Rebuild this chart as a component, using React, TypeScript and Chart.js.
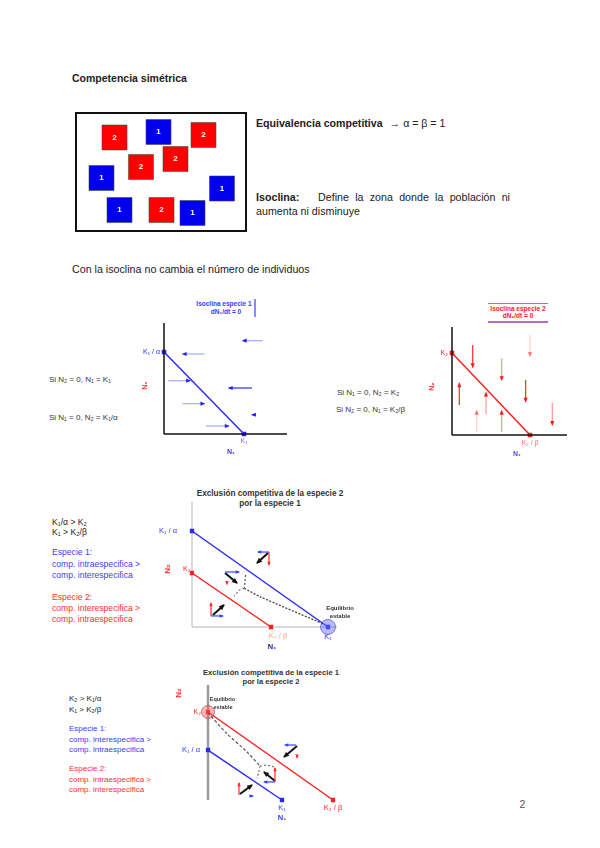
import React, { useEffect, useRef } from "react";
import { Chart, registerables } from "chart.js";

Chart.register(...registerables);

// ---------------- data ----------------
// individuals in the box (species id and position inside the box)
const boxSpecies = [2, 1, 2, 2, 2, 1, 1, 1, 2, 1];
const boxX = [39.5, 83.5, 128.5, 100.5, 66, 26.5, 147, 44.5, 86.5, 117.5];
const boxY = [25.5, 20, 23, 47, 55, 66, 76.5, 98, 98, 101];

// isocline of species 1 (units: K1 = 1, K1/alpha = 1)
const iso1N1 = [0, 1];
const iso1N2 = [1, 0];
const d1ArrowFromN1 = [1.234, 0.504, 0.054, 1.1, 0.229, 1.15, 0.525];
const d1ArrowToN1 = [0.984, 0.234, 0.325, 0.81, 0.504, 1.1, 0.809];
const d1ArrowN2 = [1.138, 0.976, 0.65, 0.561, 0.37, 0.235, 0.098];
const d1ArrowTone = ["light", "light", "light", "dark", "light", "dark", "light"];

// isocline of species 2 (units: K2 = 1, K2/beta = 1)
const iso2N1 = [0, 1];
const iso2N2 = [1, 0];
const d2ArrowN1 = [0.265, 1.0, 0.637, 0.094, 0.436, 0.944, 0.316, 0.637, 1.286];
const d2ArrowFromN2 = [1.098, 1.22, 0.935, 0.366, 0.256, 0.67, 0.04, 0.04, 0.394];
const d2ArrowToN2 = [0.826, 0.963, 0.67, 0.63, 0.516, 0.406, 0.296, 0.296, 0.122];
const d2ArrowTone = ["dark", "faint", "light", "dark", "light", "dark", "faint", "light", "light"];

// exclusion of species 2 by species 1
const ex1Iso1N1 = [0, 1];
const ex1Iso1N2 = [1, 0];
const ex1Iso2N1 = [0, 0.581];
const ex1Iso2N2 = [0.5625, 0];
const ex1VecKind = ["N1", "N2", "net", "N1", "N2", "net", "N1", "N2", "net"];
const ex1VecX0 = [0.566, 0.566, 0.559, 0.243, 0.257, 0.243, 0.14, 0.14, 0.154];
const ex1VecY0 = [0.781, 0.781, 0.771, 0.573, 0.47, 0.5625, 0.115, 0.115, 0.125];
const ex1VecX1 = [0.485, 0.566, 0.478, 0.346, 0.257, 0.331, 0.228, 0.14, 0.235];
const ex1VecY1 = [0.781, 0.646, 0.667, 0.573, 0.445, 0.458, 0.115, 0.25, 0.229];
const ex1TrajUpN1 = [0.395, 0.389, 0.385];
const ex1TrajUpN2 = [0.542, 0.47, 0.403];
const ex1TrajLeftN1 = [0.385, 0.35, 0.31];
const ex1TrajLeftN2 = [0.403, 0.385, 0.32];
const ex1TrajRightN1 = [0.385, 0.5, 0.966];
const ex1TrajRightN2 = [0.403, 0.316, 0.031];

// exclusion of species 1 by species 2
const ex2Iso2N1 = [0, 1];
const ex2Iso2N2 = [1, 0];
const ex2Iso1N1 = [0, 0.592];
const ex2Iso1N2 = [0.568, 0];
const ex2VecKind = ["N1", "N2", "net", "N1", "N2", "net", "N1", "N2", "net"];
const ex2VecX0 = [0.704, 0.712, 0.712, 0.536, 0.536, 0.536, 0.33, 0.248, 0.256];
const ex2VecY0 = [0.625, 0.5, 0.614, 0.205, 0.205, 0.216, 0.045, 0.057, 0.068];
const ex2VecX1 = [0.616, 0.712, 0.608, 0.448, 0.536, 0.448, 0.36, 0.248, 0.352];
const ex2VecY1 = [0.625, 0.48, 0.489, 0.205, 0.364, 0.318, 0.045, 0.193, 0.17];
const ex2TrajMainN1 = [0.0, 0.149, 0.31, 0.416];
const ex2TrajMainN2 = [0.99, 0.758, 0.549, 0.386];
const ex2TrajDownN1 = [0.416, 0.405, 0.39];
const ex2TrajDownN2 = [0.386, 0.31, 0.247];
const ex2TrajRightN1 = [0.416, 0.47, 0.53];
const ex2TrajRightN2 = [0.386, 0.395, 0.375];

// ---------------- helpers ----------------
const FONT = '"Liberation Sans", Arial, Helvetica, sans-serif';
const cf = (size: number, bold = false) => `${bold ? "bold " : ""}${size}px "Liberation Sans", Arial, sans-serif`;
const BLUE = "#2b2bff";
const RED = "#ff2020";

type Lbl = { x: number; y: number; t: string; c: string; f: string; al?: CanvasTextAlign; dx?: number; dy?: number; rot?: boolean };

const seg = (x0: number, y0: number, x1: number, y1: number, color: string, width: number, extra: any = {}) => ({
  data: [{ x: x0, y: y0 }, { x: x1, y: y1 }],
  showLine: true,
  borderColor: color,
  backgroundColor: color,
  borderWidth: width,
  pointRadius: 0,
  pointHoverRadius: 0,
  clip: false,
  ...extra,
});

const path = (xs: number[], ys: number[], color: string, width: number, extra: any = {}) => ({
  data: xs.map((x, i) => ({ x, y: ys[i] })),
  showLine: true,
  borderColor: color,
  backgroundColor: color,
  borderWidth: width,
  pointRadius: 0,
  pointHoverRadius: 0,
  clip: false,
  ...extra,
});

const overlay = (labels: Lbl[]) => ({
  id: "overlay",
  afterDatasetsDraw(chart: any) {
    const ctx = chart.ctx;
    chart.data.datasets.forEach((ds: any, i: number) => {
      if (!ds.head) return;
      const pts = chart.getDatasetMeta(i).data;
      const a = pts[pts.length - 2];
      const b = pts[pts.length - 1];
      const ang = Math.atan2(b.y - a.y, b.x - a.x);
      const s = ds.headSize || 3;
      ctx.save();
      ctx.fillStyle = ds.head;
      ctx.translate(b.x, b.y);
      ctx.rotate(ang);
      ctx.beginPath();
      ctx.moveTo(1, 0);
      ctx.lineTo(-s * 1.5, -s * 0.8);
      ctx.lineTo(-s * 1.5, s * 0.8);
      ctx.closePath();
      ctx.fill();
      ctx.restore();
    });
    const xs = chart.scales.x;
    const ys = chart.scales.y;
    labels.forEach((l) => {
      const px = xs.getPixelForValue(l.x) + (l.dx || 0);
      const py = ys.getPixelForValue(l.y) + (l.dy || 0);
      ctx.save();
      ctx.translate(px, py);
      if (l.rot) ctx.rotate(-Math.PI / 2);
      ctx.font = l.f;
      ctx.fillStyle = l.c;
      ctx.textAlign = l.al || "center";
      ctx.textBaseline = "middle";
      ctx.fillText(l.t, 0, 0);
      ctx.restore();
    });
  },
});

type PlaneProps = {
  bx: number; by: number; bw: number; bh: number; pad: number[];
  xMax: number; yMax: number; rev?: boolean; datasets: any[]; labels: Lbl[];
};

function Plane({ bx, by, bw, bh, pad, xMax, yMax, rev, datasets, labels }: PlaneProps) {
  const ref = useRef<HTMLCanvasElement | null>(null);
  const W = bw + pad[0] + pad[2];
  const H = bh + pad[1] + pad[3];
  useEffect(() => {
    if (!ref.current) return;
    const chart = new Chart(ref.current, {
      type: "scatter",
      data: { datasets },
      options: {
        responsive: false,
        animation: false,
        devicePixelRatio: 1,
        events: [],
        layout: { autoPadding: false, padding: { left: pad[0], top: pad[1], right: pad[2], bottom: pad[3] } },
        scales: {
          x: { type: "linear", min: 0, max: xMax, display: false },
          y: { type: "linear", min: 0, max: yMax, display: false, reverse: !!rev },
        },
        plugins: { legend: { display: false }, tooltip: { enabled: false } },
      },
      plugins: [overlay(labels)],
    } as any);
    return () => chart.destroy();
  }, []);
  return (
    <canvas
      ref={ref}
      width={W}
      height={H}
      style={{ position: "absolute", left: bx - pad[0], top: by - pad[1], width: W, height: H }}
    />
  );
}

const T = ({ x, y, s, c = "#222", b = false, a = "left", children }: any) => (
  <div
    style={{
      position: "absolute",
      left: x,
      top: y,
      fontSize: s,
      color: c,
      fontWeight: b ? 700 : 400,
      lineHeight: 1,
      whiteSpace: "nowrap",
      fontFamily: FONT,
      transform: a === "center" ? "translate(-50%,-50%)" : "translateY(-50%)",
    }}
  >
    {children}
  </div>
);

const vecColor: Record<string, string> = { N1: "#3347ff", N2: "#ff2a2a", net: "#111111" };

function vectors(kind: string[], x0: number[], y0: number[], x1: number[], y1: number[]) {
  return kind.map((k, i) =>
    seg(x0[i], y0[i], x1[i], y1[i], vecColor[k], k === "net" ? 2 : 1.2, {
      head: vecColor[k],
      headSize: k === "net" ? 3.2 : 2.2,
    })
  );
}

// ---------------- app ----------------
export default function App() {
  // box of individuals
  const boxDatasets = [
    {
      data: boxSpecies.map((s, i) => ({ x: boxX[i], y: boxY[i] })),
      pointStyle: "rect",
      pointRadius: 17.7,
      pointHoverRadius: 17.7,
      backgroundColor: boxSpecies.map((s) => (s === 1 ? "#0000ee" : "#ff0000")),
      borderColor: "rgba(70,70,70,0.55)",
      borderWidth: 1,
      clip: false,
    },
  ];
  const boxLabels: Lbl[] = boxSpecies.map((s, i) => ({ x: boxX[i], y: boxY[i], t: String(s), c: "#ffffff", f: cf(8, true) }));

  // diagram 1
  const d1X = 123 / 80;
  const d1Y = 111 / 82;
  const d1Sets = [
    seg(0, 0, d1X, 0, "#111", 1.5),
    seg(0, 0, 0, d1Y, "#111", 1.5),
    path(iso1N1, iso1N2, BLUE, 1.5, { pointRadius: 2.2, pointStyle: "rect" }),
    ...d1ArrowFromN1.map((x0, i) =>
      seg(x0, d1ArrowN2[i], d1ArrowToN1[i], d1ArrowN2[i], d1ArrowTone[i] === "dark" ? "#3a3aff" : "#aab2ff", 1.3, {
        head: "#2020ff",
        headSize: 2.6,
      })
    ),
  ];
  const d1Labels: Lbl[] = [
    { x: 0, y: 1, t: "K\u2081 / \u03b1", c: BLUE, f: cf(7), al: "right", dx: -4 },
    { x: 1, y: 0, t: "K\u2081", c: "#7a6cff", f: cf(7), dy: 7 },
    { x: 0, y: 0.589, t: "N\u2082", c: RED, f: cf(7, true), dx: -19, rot: true },
    { x: 0.8375, y: 0, t: "N\u2081", c: "#3a3aff", f: cf(7, true), dy: 18 },
  ];

  // diagram 2
  const d2X = 115 / 78;
  const d2Y = 108 / 82;
  const d2Line: Record<string, string> = { dark: "#ff3a3a", light: "#ff9e9e", faint: "#ffd4d4" };
  const d2Head: Record<string, string> = { dark: "#ff1a1a", light: "#ff1a1a", faint: "#ff7070" };
  const d2Sets = [
    seg(0, 0, d2X, 0, "#111", 1.5),
    seg(0, 0, 0, d2Y, "#111", 1.5),
    path(iso2N1, iso2N2, RED, 1.5, { pointRadius: 2.2, pointStyle: "rect" }),
    ...d2ArrowN1.map((x, i) =>
      seg(x, d2ArrowFromN2[i], x, d2ArrowToN2[i], d2Line[d2ArrowTone[i]], 1.3, {
        head: d2Head[d2ArrowTone[i]],
        headSize: 2.6,
      })
    ),
  ];
  const d2Labels: Lbl[] = [
    { x: 0, y: 1, t: "K\u2082", c: RED, f: cf(7), al: "right", dx: -4 },
    { x: 1, y: 0, t: "K\u2082 / \u03b2", c: "#ff6a6a", f: cf(7), dy: 8 },
    { x: 0, y: 0.589, t: "N\u2082", c: RED, f: cf(7, true), dx: -20, rot: true },
    { x: 0.833, y: 0, t: "N\u2081", c: "#5a4aff", f: cf(7, true), dy: 19 },
  ];

  // diagram 3
  const d3X = 145 / 136;
  const d3Y = 125 / 96;
  const d3Sets = [
    ...vectors(ex1VecKind, ex1VecX0, ex1VecY0, ex1VecX1, ex1VecY1),
    path(ex1TrajUpN1, ex1TrajUpN2, "#555", 1.2, { borderDash: [2, 2], tension: 0.3 }),
    path(ex1TrajLeftN1, ex1TrajLeftN2, "#777", 1.2, { borderDash: [2, 2], tension: 0.3 }),
    path(ex1TrajRightN1, ex1TrajRightN2, "#444", 1.3, { borderDash: [2, 1.5], tension: 0.2 }),
    {
      data: [{ x: 1, y: 0 }],
      pointRadius: 7.5,
      pointHoverRadius: 7.5,
      backgroundColor: "rgba(95,105,255,0.45)",
      borderColor: "rgba(60,60,170,0.6)",
      borderWidth: 1,
      clip: false,
    },
    path(ex1Iso1N1, ex1Iso1N2, BLUE, 1.5, { pointRadius: 2, pointStyle: "rect" }),
    path(ex1Iso2N1, ex1Iso2N2, RED, 1.5, { pointRadius: 2, pointStyle: "rect" }),
    seg(0, 0, d3X, 0, "#b5b5b5", 1),
    seg(0, 0, 0, d3Y, "#b5b5b5", 1),
  ];
  const d3Labels: Lbl[] = [
    { x: 0, y: 1, t: "K\u2081 / \u03b1", c: "#3a3aff", f: cf(7.5), al: "right", dx: -15 },
    { x: 0, y: 0.5625, t: "K\u2082", c: RED, f: cf(7), al: "right", dx: -1.5, dy: -4 },
    { x: 0, y: 0.604, t: "N\u2082", c: RED, f: cf(8, true), dx: -24, rot: true },
    { x: 0.581, y: 0, t: "K\u2082 / \u03b2", c: "#ffa57a", f: cf(7.5), dx: 7, dy: 9 },
    { x: 1, y: 0, t: "K\u2081", c: "#3a3aff", f: cf(7.5), dy: 10 },
    { x: 0.588, y: 0, t: "N\u2081", c: "#23238a", f: cf(7.5, true), dy: 20 },
    { x: 1, y: 0, t: "Equilibrio", c: "#333", f: cf(6, true), dx: 12, dy: -19 },
    { x: 1, y: 0, t: "estable", c: "#333", f: cf(6, true), dx: 12, dy: -11 },
  ];

  // diagram 4
  const d4X = 137 / 125;
  const d4Y = 115 / 88;
  const d4Sets = [
    ...vectors(ex2VecKind, ex2VecX0, ex2VecY0, ex2VecX1, ex2VecY1),
    path(ex2TrajMainN1, ex2TrajMainN2, "#555", 1.2, { borderDash: [3, 2], tension: 0.3 }),
    path(ex2TrajDownN1, ex2TrajDownN2, "#777", 1.2, { borderDash: [2, 2], tension: 0.3 }),
    path(ex2TrajRightN1, ex2TrajRightN2, "#777", 1.2, { borderDash: [2, 2], tension: 0.3 }),
    {
      data: [{ x: 0, y: 1 }],
      pointRadius: 6.5,
      pointHoverRadius: 6.5,
      backgroundColor: "rgba(255,95,95,0.45)",
      borderColor: "rgba(140,60,60,0.6)",
      borderWidth: 1,
      clip: false,
    },
    path(ex2Iso2N1, ex2Iso2N2, RED, 1.5, { pointRadius: 2, pointStyle: "rect" }),
    path(ex2Iso1N1, ex2Iso1N2, BLUE, 1.5, { pointRadius: 2, pointStyle: "rect" }),
    seg(0, 0, 0, d4Y, "#9c9c9c", 2.5),
  ];
  const d4Labels: Lbl[] = [
    { x: 0, y: 1, t: "K\u2082", c: RED, f: cf(7), al: "right", dx: -7 },
    { x: 0, y: 0.568, t: "K\u2081 / \u03b1", c: "#3a3aff", f: cf(7.5), al: "right", dx: -8 },
    { x: 0, y: 1.216, t: "N\u2082", c: RED, f: cf(8, true), dx: -29, rot: true },
    { x: 0.592, y: 0, t: "K\u2081", c: "#3a3aff", f: cf(7.5), dy: 8 },
    { x: 0.592, y: 0, t: "N\u2081", c: "#3a3aff", f: cf(7.5, true), dy: 18 },
    { x: 1, y: 0, t: "K\u2082 / \u03b2", c: RED, f: cf(7.5), dy: 8 },
    { x: 0, y: 1, t: "Equilibrio", c: "#333", f: cf(5.5, true), dx: 14.5, dy: -13 },
    { x: 0, y: 1, t: "estable", c: "#333", f: cf(5.5, true), dx: 15, dy: -5 },
  ];

  const blueT = "#4040ff";
  const redT = "#ff3030";

  return (
    <div style={{ position: "absolute", left: 0, top: 0, width: 600, height: 848, background: "#fff", fontFamily: FONT, overflow: "hidden" }}>
      <T x={72} y={78} s={10.5} b>Competencia simétrica</T>

      {/* box of individuals */}
      <Plane bx={75} by={112} bw={172} bh={120} pad={[0, 0, 0, 0]} xMax={172} yMax={120} rev datasets={boxDatasets} labels={boxLabels} />
      <div style={{ position: "absolute", left: 75, top: 112, width: 172, height: 120, border: "2px solid #111", boxSizing: "border-box" }} />

      <T x={256} y={123} s={10.6}>
        <b>Equivalencia competitiva</b>
        <span style={{ marginLeft: 7 }}>→ α = β = 1</span>
      </T>
      <div
        style={{
          position: "absolute",
          left: 256,
          top: 190,
          width: 254,
          fontSize: 10.7,
          lineHeight: "14px",
          textAlign: "justify",
          color: "#222",
          fontFamily: FONT,
        }}
      >
        <b>Isoclina:</b>&nbsp;&nbsp; Define la zona donde la población ni aumenta ni disminuye
      </div>

      <T x={72} y={269} s={10.7}>Con la isoclina no cambia el número de individuos</T>

      {/* diagram 1 */}
      <T x={224} y={304} s={6.5} b c="#3a3aff" a="center">Isoclina especie 1</T>
      <T x={226} y={311.5} s={6.5} b c="#3a3aff" a="center">dN₁/dt = 0</T>
      <div style={{ position: "absolute", left: 254, top: 299, width: 1.5, height: 18, background: "#8a8aff" }} />
      <T x={49} y={380} s={8} c="#333">Si N₂ = 0, N₁ = K₁</T>
      <T x={49} y={418} s={8} c="#333">Si N₁ = 0, N₂ = K₁/α</T>
      <Plane bx={164} by={323} bw={123} bh={111} pad={[32, 6, 6, 24]} xMax={d1X} yMax={d1Y} datasets={d1Sets} labels={d1Labels} />

      {/* diagram 2 */}
      <div style={{ position: "absolute", left: 488, top: 302.5, width: 60, height: 1.5, background: "#b56cc9" }} />
      <div style={{ position: "absolute", left: 488, top: 321, width: 60, height: 1.5, background: "#b56cc9" }} />
      <T x={518} y={309} s={6.5} b c={RED} a="center">Isoclina especie 2</T>
      <T x={518} y={315.8} s={6.5} b c={RED} a="center">dN₂/dt = 0</T>
      <T x={337} y={393} s={8} c="#333">Si N₁ = 0, N₂ = K₂</T>
      <T x={336} y={410} s={8} c="#333">Si N₂ = 0, N₁ = K₂/β</T>
      <Plane bx={452} by={327} bw={115} bh={108} pad={[30, 6, 10, 26]} xMax={d2X} yMax={d2Y} datasets={d2Sets} labels={d2Labels} />

      {/* diagram 3 */}
      <T x={270} y={494} s={8.2} b c="#333" a="center">Exclusión competitiva de la especie 2</T>
      <T x={270} y={504} s={8.2} b c="#333" a="center">por la especie 1</T>
      <T x={52} y={521.7} s={8.6}>K₁/α &gt; K₂</T>
      <T x={52} y={532.3} s={8.6}>K₁ &gt; K₂/β</T>
      <T x={52} y={551.7} s={8.6} c={blueT}>Especie 1:</T>
      <T x={52} y={564} s={8.6} c={blueT}>comp. intraespecifica &gt;</T>
      <T x={52} y={575} s={8.6} c={blueT}>comp. interespecifica</T>
      <T x={52} y={596.7} s={8.6} c={redT}>Especie 2:</T>
      <T x={52} y={607.7} s={8.6} c={redT}>comp. interespecifica &gt;</T>
      <T x={52} y={618.5} s={8.6} c={redT}>comp. intraespecifica</T>
      <Plane bx={192} by={502} bw={145} bh={125} pad={[36, 6, 30, 28]} xMax={d3X} yMax={d3Y} datasets={d3Sets} labels={d3Labels} />

      {/* diagram 4 */}
      <T x={271} y={673.3} s={7.6} b c="#333" a="center">Exclusión competitiva de la especie 1</T>
      <T x={271} y={681.5} s={7.6} b c="#333" a="center">por la especie 2</T>
      <T x={69} y={699.3} s={8}>K₂ &gt; K₁/α</T>
      <T x={69} y={709.5} s={8}>K₁ &gt; K₂/β</T>
      <T x={69} y={729.3} s={8} c={blueT}>Especie 1:</T>
      <T x={69} y={740} s={8} c={blueT}>comp. interespecifica &gt;</T>
      <T x={69} y={750.3} s={8} c={blueT}>comp. intraespecifica</T>
      <T x={69} y={769.3} s={8} c={redT}>Especie 2:</T>
      <T x={69} y={779.5} s={8} c={redT}>comp. intraespecifica &gt;</T>
      <T x={69} y={790} s={8} c={redT}>comp. interespecifica</T>
      <Plane bx={208} by={685} bw={137} bh={115} pad={[40, 18, 10, 26]} xMax={d4X} yMax={d4Y} datasets={d4Sets} labels={d4Labels} />

      <T x={522.5} y={804} s={10.5} c="#555" a="center">2</T>
    </div>
  );
}
